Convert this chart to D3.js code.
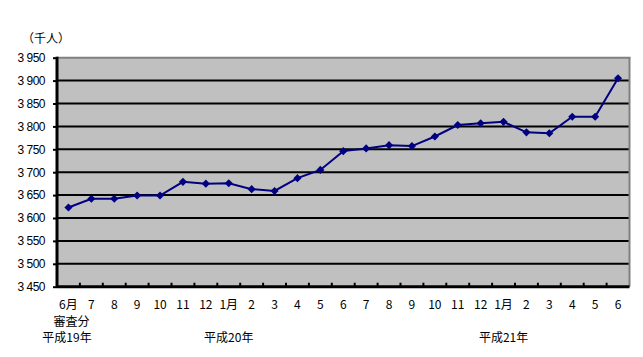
<!DOCTYPE html>
<html>
<head>
  <meta charset="utf-8">
  <title>千人</title>
  <script src="https://cdn.jsdelivr.net/npm/d3@7"></script>
  <style>
    body { margin: 0; background: #fff; }
    text { font-family: "Noto Sans CJK JP", "DejaVu Sans", sans-serif; font-size: 12px; fill: #000; }
  </style>
</head>
<body>
<script>
  // months: 平成19年6月 (審査分) .. 平成21年6月
  var months = ["6月", "7", "8", "9", "10", "11", "12", "1月", "2", "3", "4", "5",
                "6", "7", "8", "9", "10", "11", "12", "1月", "2", "3", "4", "5", "6"];
  var values = [3623, 3642, 3642, 3649, 3649, 3679, 3675, 3676, 3663, 3659, 3687, 3705,
                3746, 3752, 3759, 3757, 3778, 3803, 3807, 3810, 3787, 3785, 3821, 3821, 3905];
  var yTicks = [3450, 3500, 3550, 3600, 3650, 3700, 3750, 3800, 3850, 3900, 3950];
  var eraLabels = [
    {text: "平成19年", idx: 0},
    {text: "平成20年", idx: 7},
    {text: "平成21年", idx: 19}
  ];

  var W = 643, H = 357;
  var pLeft = 57, pRight = 629.5, pTop = 57.7, pBottom = 286.7;

  var svg = d3.select("body").append("svg")
    .attr("width", W).attr("height", H);

  var x = d3.scaleBand().domain(d3.range(months.length)).range([pLeft, pRight]).padding(0);
  var y = d3.scaleLinear().domain([3450, 3950]).range([pBottom, pTop]);

  // plot background
  svg.append("rect")
    .attr("x", pLeft).attr("y", pTop)
    .attr("width", pRight - pLeft).attr("height", pBottom - pTop)
    .attr("fill", "#c0c0c0");

  // gridlines
  svg.append("g").selectAll("line")
    .data(yTicks.filter(function(d) { return d > 3450 && d < 3950; }))
    .enter().append("line")
    .attr("x1", pLeft).attr("x2", pRight)
    .attr("y1", function(d) { return y(d); })
    .attr("y2", function(d) { return y(d); })
    .attr("stroke", "#000").attr("stroke-width", 2);

  // top and right border
  svg.append("line")
    .attr("x1", pLeft).attr("x2", pRight + 1)
    .attr("y1", y(3950)).attr("y2", y(3950))
    .attr("stroke", "#808080").attr("stroke-width", 2);
  svg.append("line")
    .attr("x1", pRight).attr("x2", pRight)
    .attr("y1", pTop).attr("y2", pBottom)
    .attr("stroke", "#808080").attr("stroke-width", 2);

  // y axis
  var yAxis = svg.append("g")
    .attr("transform", "translate(" + pLeft + ",0)")
    .call(d3.axisLeft(y).tickValues(yTicks).tickSize(4).tickPadding(8)
      .tickFormat(function(d) { return String(d).replace(/^(\d)/, "$1 "); }));
  yAxis.select(".domain").remove();
  yAxis.selectAll("line").attr("stroke", "#000").attr("stroke-width", 2);
  yAxis.selectAll("text").style("font-family", "'Liberation Sans', sans-serif").style("font-size", "12px")
    .style("letter-spacing", "-0.5px");
  svg.append("line")
    .attr("x1", pLeft).attr("x2", pLeft)
    .attr("y1", pTop - 1).attr("y2", pBottom + 1)
    .attr("stroke", "#000").attr("stroke-width", 3);

  // x axis line with inward ticks at category boundaries
  svg.append("line")
    .attr("x1", pLeft).attr("x2", pRight)
    .attr("y1", pBottom).attr("y2", pBottom)
    .attr("stroke", "#000").attr("stroke-width", 3);
  svg.append("g").selectAll("line")
    .data(d3.range(1, months.length))
    .enter().append("line")
    .attr("x1", function(d) { return x(d); })
    .attr("x2", function(d) { return x(d); })
    .attr("y1", pBottom).attr("y2", pBottom - 4)
    .attr("stroke", "#000").attr("stroke-width", 2);

  // month labels
  svg.append("g").selectAll("text")
    .data(months)
    .enter().append("text")
    .attr("x", function(d, i) { return x(i) + x.bandwidth() / 2; })
    .attr("y", 309)
    .attr("text-anchor", "middle")
    .text(function(d) { return d; });

  svg.append("text")
    .attr("x", x(0) + x.bandwidth() / 2 + 3).attr("y", 326)
    .attr("text-anchor", "middle")
    .text("審査分");

  svg.append("g").selectAll("text")
    .data(eraLabels)
    .enter().append("text")
    .attr("x", function(d) { return d.idx === 0 ? 67 : x(d.idx) + x.bandwidth() / 2; })
    .attr("y", 342)
    .attr("text-anchor", "middle")
    .text(function(d) { return d.text; });

  // unit label
  svg.append("text")
    .attr("x", 22).attr("y", 43)
    .text("（千人）");

  // line
  var line = d3.line()
    .x(function(d, i) { return x(i) + x.bandwidth() / 2; })
    .y(function(d) { return y(d); });
  svg.append("path")
    .datum(values)
    .attr("d", line)
    .attr("fill", "none")
    .attr("stroke", "#000080")
    .attr("stroke-width", 2);

  // markers
  svg.append("g").selectAll("path")
    .data(values)
    .enter().append("path")
    .attr("transform", function(d, i) {
      return "translate(" + (x(i) + x.bandwidth() / 2) + "," + y(d) + ")";
    })
    .attr("d", d3.symbol().type(d3.symbolDiamond2).size(42))
    .attr("fill", "#000080");
</script>
</body>
</html>
